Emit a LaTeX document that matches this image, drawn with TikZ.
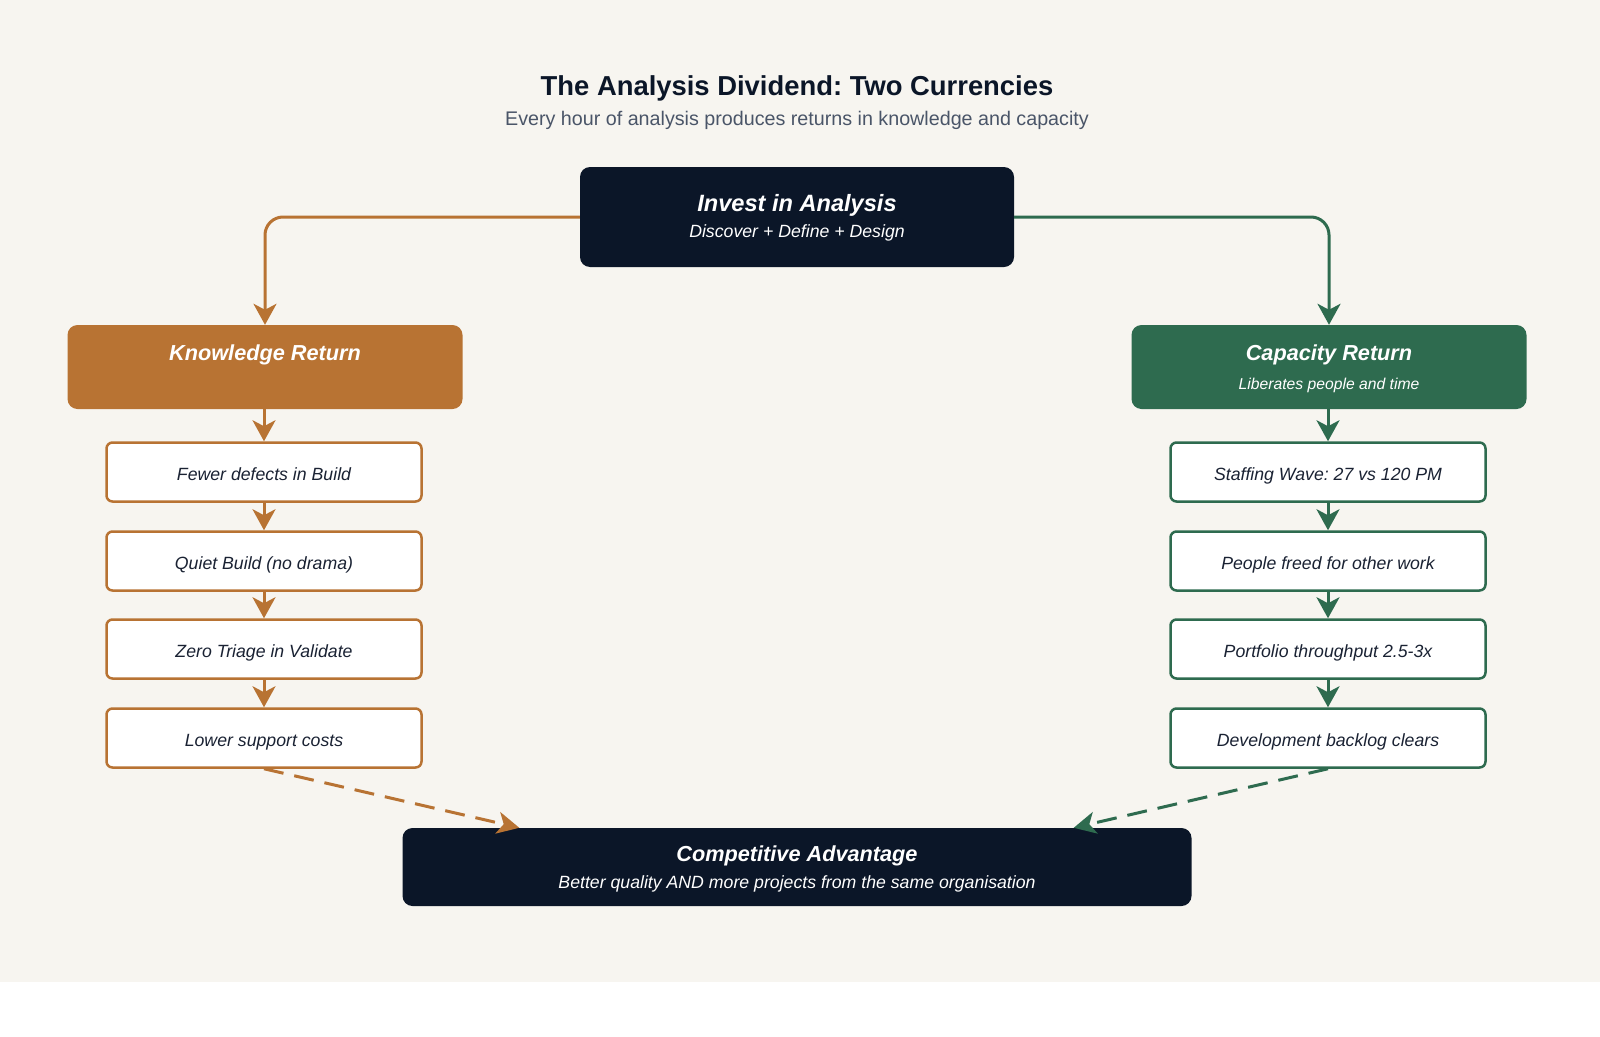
\documentclass[tikz,border=0pt]{standalone}
\usepackage{fontspec}
\setmainfont{Liberation Sans}
\usetikzlibrary{arrows.meta}

\definecolor{paper}{HTML}{F7F5F0}
\definecolor{navy}{HTML}{0B1628}
\definecolor{copper}{HTML}{B87333}
\definecolor{forest}{HTML}{2E6B4F}
\definecolor{slate}{HTML}{4A5568}
\definecolor{ink}{HTML}{1A2233}

\tikzset{
  darkbox/.style={fill=navy, rounded corners=10pt, inner sep=0pt},
  headbox/.style={fill=#1, rounded corners=10pt, inner sep=0pt, minimum width=395pt, minimum height=84pt},
  stepbox/.style={draw=#1, fill=white, line width=2.5pt, rounded corners=6pt, inner sep=0pt,
    minimum width=315pt, minimum height=59pt, text height=17pt, text depth=0pt,
    text=ink, font=\fontsize{17.7}{21}\selectfont\itshape},
  boxtitle/.style={text=white, font=\fontsize{21.7}{26}\selectfont\bfseries\itshape},
  boxnote/.style={text=white, font=\fontsize{17.7}{21}\selectfont\itshape},
  flow/.style={line width=3pt, -{Stealth[length=21pt,width=23pt,inset=6pt]}},
  link/.style={line width=3pt, dash pattern=on 20pt off 11pt, -{Stealth[length=22pt,width=22pt,inset=6pt]}},
}

\begin{document}
\frenchspacing
\begin{tikzpicture}[x=1pt,y=-1pt]
  \fill[paper] (0,0) rectangle (1600,982);
  \useasboundingbox (0,0) rectangle (1600,1036);

  % heading
  \node[text=navy, font=\fontsize{27.4}{33}\selectfont\bfseries] (title) at (797,88) {The Analysis Dividend: Two Currencies};
  \node[text=slate, font=\fontsize{19.7}{24}\selectfont] (subtitle) at (797,120) {Every hour of analysis produces returns in knowledge and capacity};

  % investment
  \node[darkbox, minimum width=434pt, minimum height=100pt] (invest) at (797,217) {};
  \node[boxtitle, font=\fontsize{23.6}{28}\selectfont\bfseries\itshape] (investT) at (797,205) {Invest in Analysis};
  \node[boxnote] (investN) at (797,233) {Discover + Define + Design};

  % the two returns
  \node[headbox=copper] (know) at (265,367) {};
  \node[boxtitle] (knowT) at (265,355) {Knowledge Return};
  \node[headbox=forest] (cap) at (1329,367) {};
  \node[boxtitle] (capT) at (1329,355) {Capacity Return};
  \node[boxnote, font=\fontsize{15.7}{19}\selectfont\itshape] (capN) at (1329,385) {Liberates people and time};

  % knowledge chain
  \node[stepbox=copper] (k1) at (264,472) {Fewer defects in Build};
  \node[stepbox=copper] (k2) at (264,561) {Quiet Build (no drama)};
  \node[stepbox=copper] (k3) at (264,649) {Zero Triage in Validate};
  \node[stepbox=copper] (k4) at (264,738) {Lower support costs};

  % capacity chain
  \node[stepbox=forest] (c1) at (1328,472) {Staffing Wave: 27 vs 120 PM};
  \node[stepbox=forest] (c2) at (1328,561) {People freed for other work};
  \node[stepbox=forest] (c3) at (1328,649) {Portfolio throughput 2.5-3x};
  \node[stepbox=forest] (c4) at (1328,738) {Development backlog clears};

  % outcome
  \node[darkbox, minimum width=789pt, minimum height=78pt] (adv) at (797,867) {};
  \node[boxtitle] (advT) at (797,856) {Competitive Advantage};
  \node[boxnote] (advN) at (797,884) {Better quality AND more projects from the same organisation};
  \coordinate (advL) at ([xshift=117pt]adv.north west);
  \coordinate (advR) at ([xshift=-118pt]adv.north east);

  % connectors
  \draw[flow, copper, rounded corners=18pt] (invest.west) -| (know.north);
  \draw[flow, forest, rounded corners=18pt] (invest.east) -| (cap.north);
  \draw[flow, copper] (know.south -| k1.north) -- (k1.north);
  \draw[flow, copper] (k1) -- (k2);
  \draw[flow, copper] (k2) -- (k3);
  \draw[flow, copper] (k3) -- (k4);
  \draw[flow, forest] (cap.south -| c1.north) -- (c1.north);
  \draw[flow, forest] (c1) -- (c2);
  \draw[flow, forest] (c2) -- (c3);
  \draw[flow, forest] (c3) -- (c4);
  \draw[link, copper] (k4.south) -- (advL);
  \draw[link, forest] (c4.south) -- (advR);
\end{tikzpicture}
\end{document}
